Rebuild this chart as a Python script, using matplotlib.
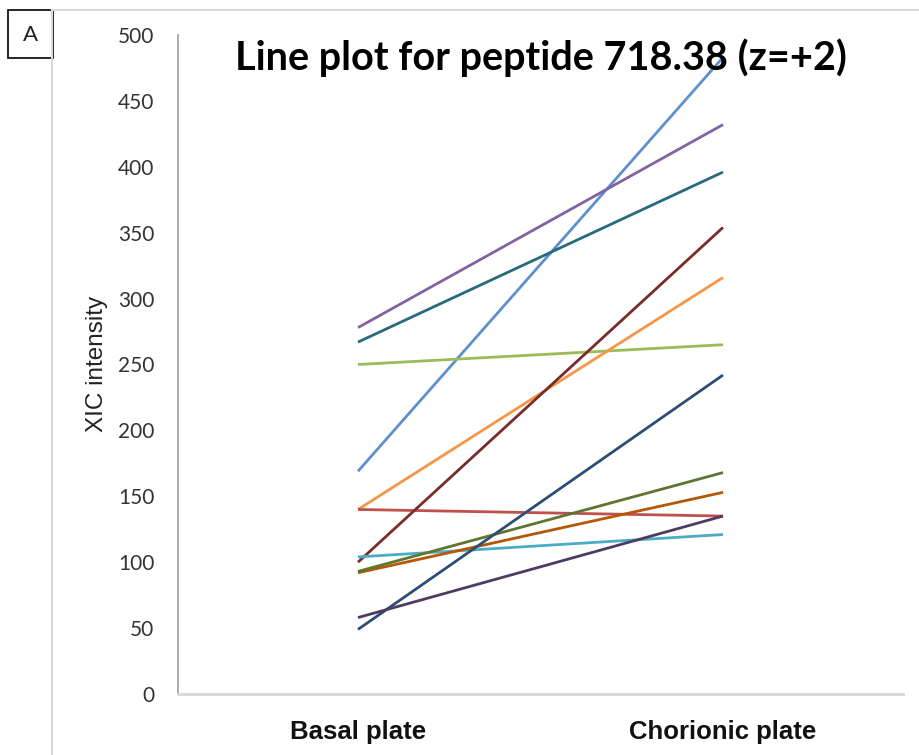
import matplotlib
matplotlib.use("Agg")
import matplotlib.pyplot as plt
from matplotlib.lines import Line2D
from matplotlib.patches import Rectangle

# XIC intensity per series: (basal plate, chorionic plate)
groups = ["Basal plate", "Chorionic plate"]
basal = [169, 278, 267, 250, 140, 140, 100, 104, 92, 93, 49, 58]
chorionic = [483, 432, 396, 265, 316, 135, 354, 121, 153, 168, 242, 135]
colors = ["#5E8FD0", "#8064A2", "#276A7C", "#9BBB59", "#F79646", "#C0504D",
          "#772C2A", "#4BACC6", "#B65708", "#5F7530", "#2C4D75", "#4D3B62"]
yticks = [0, 50, 100, 150, 200, 250, 300, 350, 400, 450, 500]

W, H = 920, 755
fig = plt.figure(figsize=(W / 100, H / 100), dpi=100)
ax = fig.add_axes([178 / W, 1 - 694 / H, (903 - 178) / W, (694 - 35) / H])

x = range(len(groups))
for b, c, col in zip(basal, chorionic, colors):
    ax.plot(x, [b, c], color=col, linewidth=2.0, solid_capstyle="butt")

ax.set_ylim(0, 500)
ax.set_xlim(-180 / 365, 545 / 365)
ax.set_yticks(yticks)
ax.set_xticks(list(x))
ax.set_xticklabels(groups, fontfamily="Liberation Sans", fontweight="bold",
                   fontsize=18.5, color="#111111")
ax.tick_params(axis="x", length=0, pad=19)
ax.tick_params(axis="y", length=0, pad=17, labelsize=15, labelcolor="#333333")
for lab in ax.get_yticklabels():
    lab.set_fontfamily("Lato")

for side in ("top", "right"):
    ax.spines[side].set_visible(False)
ax.spines["left"].set_color("#a6a6a6")
ax.spines["left"].set_linewidth(1.3)
ax.spines["bottom"].set_color("#d9d9d9")
ax.spines["bottom"].set_linewidth(2.2)

fig.text(97 / W, 1 - 364 / H, "XIC intensity", rotation=90, ha="center",
         va="center", fontfamily="Liberation Sans", fontsize=17.5, color="#222222")
fig.text(541 / W, 1 - 58 / H, "Line plot for peptide 718.38 (z=+2)",
         ha="center", va="center", fontfamily="Lato", fontweight="bold",
         fontsize=28.5, color="black")

# chart area border and panel letter box
fig.add_artist(Line2D([52 / W, 1], [1 - 10 / H, 1 - 10 / H],
                      color="#d9d9d9", linewidth=1.5))
fig.add_artist(Line2D([52 / W, 52 / W], [0, 1 - 10 / H],
                      color="#d9d9d9", linewidth=1.5))
fig.add_artist(Rectangle((8 / W, 1 - 58 / H), 45 / W, 48 / H, fill=True,
                         facecolor="white", edgecolor="black", linewidth=1.2,
                         transform=fig.transFigure))
fig.text(30.5 / W, 1 - 35 / H, "A", ha="center", va="center",
         fontfamily="Lato", fontsize=16, color="#222222")

fig.savefig("out.png", dpi=100, facecolor="white")
